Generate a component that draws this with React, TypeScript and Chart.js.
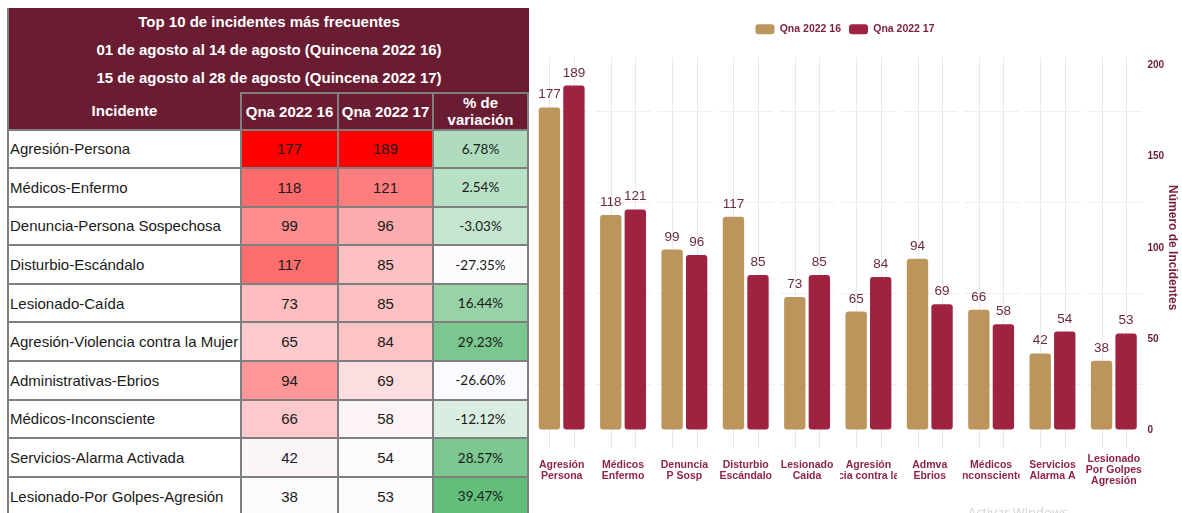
import React, { useEffect, useRef } from 'react';
import { Chart, registerables } from 'chart.js';

Chart.register(...registerables);

// ---------- data ----------
const incidentNames = [
  'Agresión-Persona',
  'Médicos-Enfermo',
  'Denuncia-Persona Sospechosa',
  'Disturbio-Escándalo',
  'Lesionado-Caída',
  'Agresión-Violencia contra la Mujer',
  'Administrativas-Ebrios',
  'Médicos-Inconsciente',
  'Servicios-Alarma Activada',
  'Lesionado-Por Golpes-Agresión',
];
const axisLabels = [
  ['Agresión', 'Persona'],
  ['Médicos', 'Enfermo'],
  ['Denuncia', 'P Sosp'],
  ['Disturbio', 'Escándalo'],
  ['Lesionado', 'Caida'],
  ['Agresión', 'Violencia contra la Mujer'],
  ['Admva', 'Ebrios'],
  ['Médicos', 'Inconsciente'],
  ['Servicios', 'Alarma A'],
  ['Lesionado', 'Por Golpes', 'Agresión'],
];
const qna16 = [177, 118, 99, 117, 73, 65, 94, 66, 42, 38];
const qna17 = [189, 121, 96, 85, 85, 84, 69, 58, 54, 53];
const variation = [6.78, 2.54, -3.03, -27.35, 16.44, 29.23, -26.6, -12.12, 28.57, 39.47];
const seriesNames = ['Qna 2022 16', 'Qna 2022 17'];
const yMax = 200;
const yLabelStep = 50;
const yGridStep = 25;
const titleLines = [
  'Top 10 de incidentes más frecuentes',
  '01 de agosto al 14 de agosto (Quincena 2022 16)',
  '15 de agosto al 28 de agosto (Quincena 2022 17)',
];
const headers = ['Incidente', 'Qna 2022 16', 'Qna 2022 17', '% de\nvariación'];
const yTitle = 'Número de Incidentes';

// ---------- styles ----------
const FONT = '"Liberation Sans", Arial, Helvetica, sans-serif';
const MAROON = '#691C32';
const GOLD = '#BC955C';
const RED = '#9F2241';
const CELL_BORDER = '2px solid #7f7f7f';
const colW = [233, 97, 95, 95];
const WHITE = [252, 252, 255];
const RED_MAX = [255, 0, 0];
const GREEN_MAX = [99, 190, 123];

Chart.defaults.font.family = FONT;

function mix(a: number[], b: number[], t: number) {
  return `rgb(${a.map((v, i) => Math.round(v + (b[i] - v) * t)).join(',')})`;
}
function scaleColor(v: number, arr: number[], hi: number[]) {
  const mn = Math.min(...arr);
  const mx = Math.max(...arr);
  return mix(WHITE, hi, (v - mn) / (mx - mn));
}

const legendSpacing = {
  id: 'legendSpacing',
  beforeInit(chart: any) {
    const orig = chart.legend.fit;
    chart.legend.fit = function fit() {
      orig.bind(chart.legend)();
      this.height += 21;
    };
  },
};

const overlayPlugin = {
  id: 'overlay',
  beforeDatasetsDraw(chart: any) {
    const { ctx, chartArea } = chart;
    ctx.save();
    ctx.strokeStyle = '#e9e9e9';
    ctx.lineWidth = 1;
    chart.data.datasets.forEach((_: any, di: number) => {
      chart.getDatasetMeta(di).data.forEach((bar: any) => {
        const x = Math.round(bar.x) + 0.5;
        ctx.beginPath();
        ctx.moveTo(x, chartArea.top - 8);
        ctx.lineTo(x, chartArea.bottom + 18);
        ctx.stroke();
      });
    });
    ctx.restore();
  },
  afterDatasetsDraw(chart: any) {
    const { ctx, chartArea } = chart;
    ctx.save();
    ctx.font = `13.5px ${FONT}`;
    ctx.fillStyle = '#6b2b3d';
    ctx.textAlign = 'center';
    ctx.textBaseline = 'alphabetic';
    chart.data.datasets.forEach((ds: any, di: number) => {
      chart.getDatasetMeta(di).data.forEach((bar: any, i: number) => {
        ctx.fillText(String(ds.data[i]), bar.x, bar.y - 9);
      });
    });
    const xs = chart.scales.x;
    const labels = chart.data.labels as string[][];
    const catW = (xs.right - xs.left) / labels.length;
    const clipW = catW * 0.93;
    ctx.font = `bold 10.5px ${FONT}`;
    ctx.fillStyle = '#8f2444';
    ctx.textBaseline = 'middle';
    labels.forEach((lines, i) => {
      const cx = xs.getPixelForValue(i);
      ctx.save();
      ctx.beginPath();
      ctx.rect(cx - clipW / 2, chartArea.bottom + 20, clipW, 60);
      ctx.clip();
      const cy = chartArea.bottom + 40.5;
      lines.forEach((ln, j) => ctx.fillText(ln, cx, cy + (j - (lines.length - 1) / 2) * 11));
      ctx.restore();
    });
    ctx.restore();
  },
};

function BarChart() {
  const ref = useRef<HTMLCanvasElement>(null);
  useEffect(() => {
    if (!ref.current) return;
    const chart = new Chart(ref.current, {
      type: 'bar',
      data: {
        labels: axisLabels as any,
        datasets: [
          {
            label: seriesNames[0],
            data: qna16,
            backgroundColor: GOLD,
            yAxisID: 'y',
            borderRadius: 3,
            borderSkipped: false,
            categoryPercentage: 0.8,
            barPercentage: 0.87,
          },
          {
            label: seriesNames[1],
            data: qna17,
            backgroundColor: RED,
            yAxisID: 'y',
            borderRadius: 3,
            borderSkipped: false,
            categoryPercentage: 0.8,
            barPercentage: 0.87,
          },
        ],
      },
      options: {
        animation: false,
        responsive: true,
        maintainAspectRatio: false,
        layout: { padding: { top: 16, bottom: 83 } },
        plugins: {
          legend: {
            position: 'top',
            labels: {
              boxWidth: 19,
              boxHeight: 10,
              useBorderRadius: true,
              borderRadius: 3,
              padding: 8,
              color: '#7b1e3c',
              font: { size: 10.5, weight: 'bold' },
            },
          },
          tooltip: { enabled: false },
        },
        scales: {
          x: { display: false, offset: true },
          y: {
            position: 'right',
            min: 0,
            max: yMax,
            afterFit: (s: any) => {
              s.width = 37.5;
            },
            ticks: {
              stepSize: yGridStep,
              padding: 3,
              color: '#6b1c32',
              font: { size: 10, weight: 'bold' },
              callback: (v: any) => (Number(v) % yLabelStep === 0 ? String(v) : ''),
            },
            grid: {
              drawTicks: false,
              color: (c: any) =>
                c.tick && c.tick.value % yLabelStep === yGridStep ? '#efefef' : 'rgba(0,0,0,0)',
            },
            border: { display: false, dash: [55, 6.4], dashOffset: 58.2 },
            title: {
              display: true,
              text: yTitle,
              color: '#7b1e3c',
              font: { size: 12, weight: 'bold' },
              padding: { top: 2, bottom: 0 },
            },
          },
          yPad: {
            position: 'left',
            display: true,
            grid: { display: false },
            border: { display: false },
            ticks: { display: false },
            afterFit: (s: any) => {
              s.width = 23;
            },
          },
        },
      } as any,
      plugins: [legendSpacing, overlayPlugin],
    });
    return () => chart.destroy();
  }, []);
  return (
    <div style={{ position: 'fixed', left: 508, top: 0, width: 674, height: 513 }}>
      <canvas ref={ref} />
    </div>
  );
}

function DataTable() {
  const cellBase: React.CSSProperties = {
    boxSizing: 'border-box',
    borderRight: CELL_BORDER,
    borderBottom: CELL_BORDER,
    display: 'flex',
    alignItems: 'center',
    height: '100%',
  };
  return (
    <div
      style={{
        position: 'fixed',
        left: 7,
        top: 8,
        width: 522,
        fontFamily: FONT,
        zIndex: 1,
        color: '#1a1a1a',
      }}
    >
      <div style={{ background: MAROON, borderLeft: CELL_BORDER }}>
        {titleLines.map((t) => (
          <div
            key={t}
            style={{
              height: 28,
              lineHeight: '27px',
              textAlign: 'center',
              color: '#fff',
              fontWeight: 'bold',
              fontSize: 15,
            }}
          >
            {t}
          </div>
        ))}
        <div style={{ display: 'flex', height: 38.5 }}>
          {headers.map((h, i) => (
            <div
              key={i}
              style={{
                ...cellBase,
                width: colW[i],
                borderTop: i > 0 ? CELL_BORDER : 'none',
                justifyContent: 'center',
                textAlign: 'center',
                whiteSpace: 'pre-line',
                color: '#fff',
                fontWeight: 'bold',
                fontSize: 15,
                lineHeight: '17px',
              }}
            >
              {h}
            </div>
          ))}
        </div>
      </div>
      {incidentNames.map((name, r) => (
        <div key={name} style={{ display: 'flex', height: 38.6, borderLeft: CELL_BORDER, background: '#fff' }}>
          <div style={{ ...cellBase, width: colW[0], paddingLeft: 1, fontSize: 15, whiteSpace: 'nowrap' }}>{name}</div>
          <div
            style={{
              ...cellBase,
              width: colW[1],
              justifyContent: 'center',
              fontSize: 15,
              background: scaleColor(qna16[r], qna16, RED_MAX),
            }}
          >
            {qna16[r]}
          </div>
          <div
            style={{
              ...cellBase,
              width: colW[2],
              justifyContent: 'center',
              fontSize: 15,
              background: scaleColor(qna17[r], qna17, RED_MAX),
            }}
          >
            {qna17[r]}
          </div>
          <div
            style={{
              ...cellBase,
              width: colW[3],
              justifyContent: 'center',
              fontSize: 13.5,
              fontFamily: 'Lato, "Open Sans", sans-serif',
              background: scaleColor(variation[r], variation, GREEN_MAX),
            }}
          >
            {variation[r].toFixed(2) + '%'}
          </div>
        </div>
      ))}
    </div>
  );
}

export default function App() {
  return (
    <div>
      <DataTable />
      <BarChart />
      <div
        style={{
          position: 'fixed',
          left: 968,
          top: 503,
          fontSize: 13,
          fontFamily: '"Open Sans", sans-serif',
          color: '#d2d2d2',
          whiteSpace: 'nowrap',
        }}
      >
        Activar Windows
      </div>
    </div>
  );
}
